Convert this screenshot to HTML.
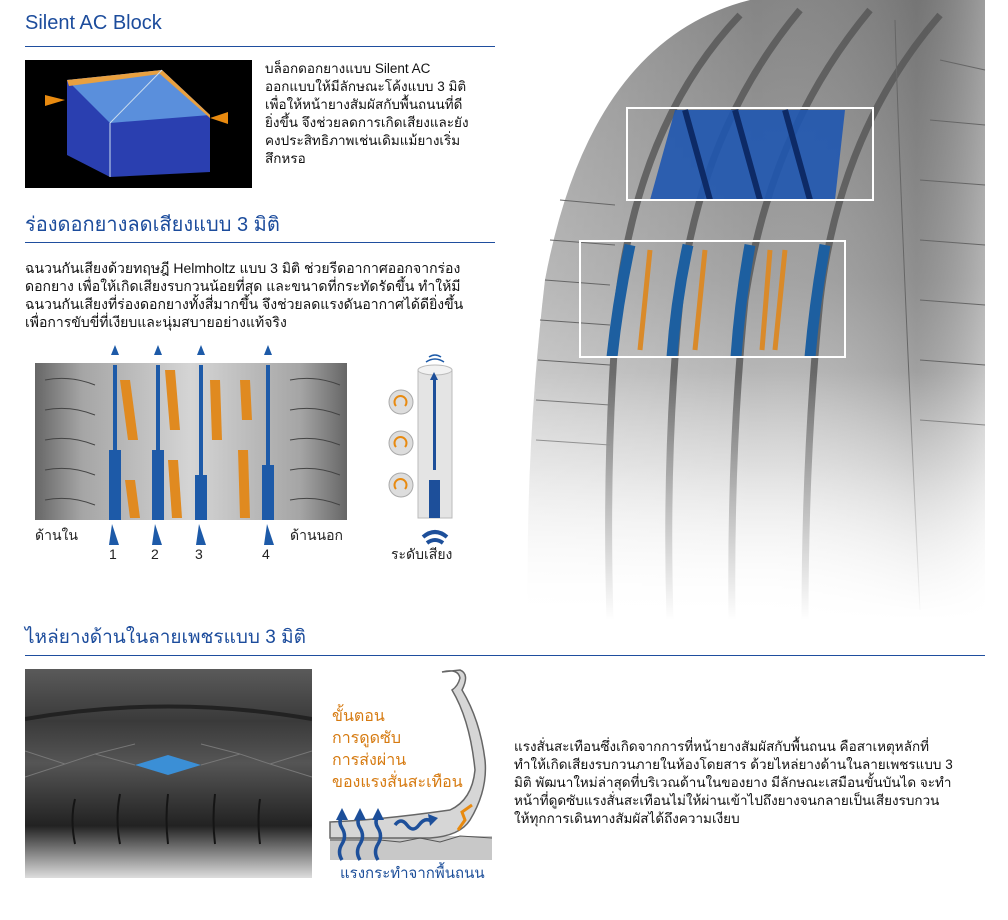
<!DOCTYPE html>
<html><head><meta charset="utf-8">
<style>
body{margin:0;width:1008px;height:920px;background:#fff;position:relative;overflow:hidden;font-family:"Liberation Sans","Noto Sans CJK SC",sans-serif;color:#111}
.abs{position:absolute}
.h{color:#1c4c9c;font-size:20px;white-space:nowrap}
.line{position:absolute;height:1px;background:#1f4e9e}
.p{font-size:13.5px;line-height:18px;white-space:nowrap}
</style></head><body>

<svg class="abs" style="left:500px;top:0" width="508" height="620" viewBox="0 0 508 620">
<defs>
<linearGradient id="tg" x1="0" y1="0" x2="0" y2="1">
<stop offset="0" stop-color="#858585"/><stop offset="0.45" stop-color="#a2a2a2"/><stop offset="0.75" stop-color="#cacaca"/><stop offset="1" stop-color="#fff"/>
</linearGradient>
<linearGradient id="tgx" x1="0" y1="0" x2="1" y2="0">
<stop offset="0" stop-color="#fff" stop-opacity="0.25"/><stop offset="0.5" stop-color="#fff" stop-opacity="0"/><stop offset="0.85" stop-color="#000" stop-opacity="0.12"/><stop offset="1" stop-color="#fff" stop-opacity="0.2"/>
</linearGradient>
<linearGradient id="fade" x1="0" y1="0" x2="0" y2="1">
<stop offset="0.6" stop-color="#fff" stop-opacity="0"/><stop offset="1" stop-color="#fff" stop-opacity="1"/>
</linearGradient>
</defs>
<path d="M250 0 Q90 40 45 280 Q25 450 28 620 L485 620 L485 0 Z" fill="url(#tg)"/>
<path d="M250 0 Q90 40 45 280 Q25 450 28 620 L485 620 L485 0 Z" fill="url(#tgx)"/>
<g fill="none" stroke="#555" stroke-width="7" opacity="0.8">
<path d="M240 15 Q140 120 118 300 Q105 450 110 620"/>
<path d="M300 10 Q200 130 180 300 Q165 450 170 620"/>
<path d="M370 10 Q270 130 245 300 Q230 450 232 620"/>
<path d="M440 15 Q340 130 320 300 Q305 450 305 620"/>
</g>
<g fill="none" stroke="#666" stroke-width="1">
<path d="M395 20 Q400 200 420 610"/>
<path d="M440 60 L485 70 M430 120 L485 125 M420 180 L485 185 M420 240 L485 245 M420 300 L485 305 M420 360 L485 365 M420 420 L485 425"/>
<path d="M60 200 L115 205 M50 240 L115 245 M45 280 L110 285 M40 320 L110 325 M38 360 L110 365 M36 400 L110 405 M36 440 L110 445"/>
</g>
<g>
<path d="M175 110 L345 110 L335 200 L150 200 Z" fill="#1f56b0" opacity="0.9"/>
<path d="M185 110 L210 200 M235 110 L260 200 M285 110 L310 200" stroke="#0d2a66" stroke-width="6"/>
</g>
<rect x="127" y="108" width="246" height="92" fill="none" stroke="#fff" stroke-width="2"/>
<g fill="none">
<path d="M130 245 Q118 300 112 357" stroke="#1d5fa0" stroke-width="11"/>
<path d="M188 245 Q176 300 172 357" stroke="#1d5fa0" stroke-width="11"/>
<path d="M250 245 Q240 300 236 357" stroke="#1d5fa0" stroke-width="11"/>
<path d="M325 245 Q315 300 310 357" stroke="#1d5fa0" stroke-width="11"/>
<path d="M150 250 L140 350 M205 250 L195 350 M270 250 L262 350 M285 250 L275 350" stroke="#d98a2a" stroke-width="5"/>
</g>
<rect x="80" y="241" width="265" height="116" fill="none" stroke="#fff" stroke-width="2"/>
<rect x="0" y="0" width="508" height="620" fill="url(#fade)"/>
</svg>

<div class="abs h" style="left:25px;top:12px">Silent AC Block</div>
<div class="line" style="left:25px;top:46px;width:470px"></div>

<svg class="abs" style="left:25px;top:60px" width="227" height="128">
<rect width="227" height="128" fill="#000"/>
<polygon points="20,35 40,40 20,46" fill="#e88a10"/>
<polygon points="203,52 203,64 185,58" fill="#e88a10"/>
<polygon points="42,20 137,10 185,55 185,112 85,117 42,95" fill="#2a3fb0"/>
<polygon points="42,20 137,10 185,55 85,63" fill="#5a8fdc"/>
<polygon points="42,20 137,10 185,55 185,58 135,14 44,26" fill="#e8a040"/>
<line x1="85" y1="63" x2="137" y2="10" stroke="#cde" stroke-width="1"/>
<line x1="85" y1="63" x2="85" y2="117" stroke="#cde" stroke-width="1"/>
</svg>

<div class="abs p" style="left:265px;top:60px">บล็อกดอกยางแบบ Silent AC<br>ออกแบบให้มีลักษณะโค้งแบบ 3 มิติ<br>เพื่อให้หน้ายางสัมผัสกับพื้นถนนที่ดี<br>ยิ่งขึ้น จึงช่วยลดการเกิดเสียงและยัง<br>คงประสิทธิภาพเช่นเดิมแม้ยางเริ่ม<br>สึกหรอ</div>

<div class="abs h" style="left:25px;top:208px">ร่องดอกยางลดเสียงแบบ 3 มิติ</div>
<div class="line" style="left:25px;top:242px;width:470px"></div>

<div class="abs p" style="left:25px;top:259px;font-size:14px">ฉนวนกันเสียงด้วยทฤษฎี Helmholtz แบบ 3 มิติ ช่วยรีดอากาศออกจากร่อง<br>ดอกยาง เพื่อให้เกิดเสียงรบกวนน้อยที่สุด และขนาดที่กระทัดรัดขึ้น ทำให้มี<br>ฉนวนกันเสียงที่ร่องดอกยางทั้งสี่มากขึ้น จึงช่วยลดแรงดันอากาศได้ดียิ่งขึ้น<br>เพื่อการขับขี่ที่เงียบและนุ่มสบายอย่างแท้จริง</div>

<svg class="abs" style="left:0;top:340px" width="500" height="240">
<defs><linearGradient id="tr" x1="0" y1="0" x2="1" y2="0">
<stop offset="0" stop-color="#666"/><stop offset="0.15" stop-color="#a5a5a5"/><stop offset="0.5" stop-color="#d5d5d5"/><stop offset="0.85" stop-color="#a5a5a5"/><stop offset="1" stop-color="#666"/></linearGradient></defs>
<rect x="35" y="23" width="312" height="157" fill="url(#tr)"/>
<g stroke="#444" stroke-width="1" fill="none">
<path d="M45 40 Q70 35 95 45 M45 70 Q70 65 95 75 M45 100 Q70 95 95 105 M45 130 Q70 125 95 135 M45 160 Q70 155 95 165"/>
<path d="M290 40 Q315 35 340 45 M290 70 Q315 65 340 75 M290 100 Q315 95 340 105 M290 130 Q315 125 340 135 M290 160 Q315 155 340 165"/>
</g>
<g fill="#e08a20">
<polygon points="120,40 130,40 138,100 128,100"/><polygon points="125,140 135,140 140,178 130,178"/>
<polygon points="165,30 175,30 180,90 170,90"/><polygon points="168,120 178,120 182,178 172,178"/>
<polygon points="210,40 220,40 222,100 212,100"/><polygon points="238,110 248,110 250,178 240,178"/>
<polygon points="240,40 250,40 252,80 242,80"/>
</g>
<g fill="#1d5aa8">
<rect x="109" y="110" width="12" height="70"/><rect x="113" y="25" width="4" height="90"/><polygon points="115,5 111,15 119,15"/>
<rect x="152" y="110" width="12" height="70"/><rect x="156" y="25" width="4" height="90"/><polygon points="158,5 154,15 162,15"/>
<rect x="195" y="135" width="12" height="45"/><rect x="199" y="25" width="4" height="115"/><polygon points="201,5 197,15 205,15"/>
<rect x="262" y="125" width="12" height="55"/><rect x="266" y="25" width="4" height="105"/><polygon points="268,5 264,15 272,15"/>
<polygon points="112,184 109,205 119,205"/><polygon points="155,184 152,205 162,205"/><polygon points="199,184 196,205 206,205"/><polygon points="267,184 264,205 274,205"/>
</g>
<g font-size="14" fill="#222">
<text x="35" y="200">ด้านใน</text><text x="290" y="200">ด้านนอก</text>
<text x="109" y="219">1</text><text x="151" y="219">2</text><text x="195" y="219">3</text><text x="262" y="219">4</text>
</g>
<rect x="418" y="30" width="34" height="148" fill="#e4e4e4" stroke="#bbb"/>
<ellipse cx="435" cy="30" rx="17" ry="5" fill="#f2f2f2" stroke="#bbb"/>
<g fill="#1d4f9a"><rect x="433" y="40" width="3" height="90"/><polygon points="434,32 430,40 438,40"/><rect x="429" y="140" width="11" height="38"/></g>
<g fill="#ddd" stroke="#aaa">
<circle cx="401" cy="62" r="12"/><circle cx="401" cy="103" r="12"/><circle cx="401" cy="145" r="12"/></g>
<g fill="none" stroke="#e88a10" stroke-width="2">
<path d="M396 66 a6 6 0 1 1 9 0"/><path d="M396 107 a6 6 0 1 1 9 0"/><path d="M396 149 a6 6 0 1 1 9 0"/></g>
<path d="M426 22 q9 -6 18 0 M429 17 q6 -4 12 0" stroke="#1d5aa8" stroke-width="1.5" fill="none"/>
<path d="M423 197 q12 -10 24 0" stroke="#1d4f9a" stroke-width="4" fill="none"/>
<path d="M427 203 q8 -6 16 0" stroke="#1d4f9a" stroke-width="4" fill="none"/>
<text x="391" y="219" font-size="14" fill="#222">ระดับเสียง</text>
</svg>

<div class="abs h" style="left:25px;top:622px;font-size:19px">ไหล่ยางด้านในลายเพชรแบบ 3 มิติ</div>
<div class="line" style="left:25px;top:655px;width:960px"></div>

<svg class="abs" style="left:25px;top:669px" width="287" height="209">
<defs><linearGradient id="lt" x1="0" y1="0" x2="0" y2="1">
<stop offset="0" stop-color="#5a5a5a"/><stop offset="0.25" stop-color="#3a3a3a"/><stop offset="0.45" stop-color="#555"/><stop offset="0.75" stop-color="#222"/><stop offset="1" stop-color="#ddd"/></linearGradient></defs>
<rect width="287" height="209" fill="url(#lt)"/>
<path d="M0 50 Q143 25 287 50" stroke="#222" stroke-width="4" fill="none"/>
<polygon points="110,96 143,86 176,96 143,106" fill="#3b8fd6"/>
<g stroke="#777" fill="none"><path d="M0 82 L40 95 L0 108 M40 95 L70 85 L110 96 M176 96 L215 85 L245 95 L287 82 M245 95 L287 108 M70 85 L110 75 M215 85 L176 75"/></g>
<g stroke="#151515" stroke-width="2" fill="none"><path d="M50 130 Q45 150 50 175 M95 125 Q90 150 95 175 M143 125 Q140 150 143 175 M190 125 Q187 150 190 175 M235 130 Q232 150 235 175"/></g>
</svg>

<svg class="abs" style="left:320px;top:660px" width="200" height="230">
<rect x="10" y="176" width="162" height="24" fill="#c8c8c8"/>
<path d="M122 12 Q138 8 140 18 Q138 26 132 30 Q150 60 155 110 Q152 140 130 150 Q60 160 10 162 L10 178 Q60 178 110 178 Q140 176 150 160 Q168 130 165 100 Q160 60 142 30 Q150 14 140 10 Z" fill="#d6d6d6" stroke="#666" stroke-width="1.5"/>
<path d="M10 180 L60 180 L80 182 L100 178 L120 182 L140 176 L172 178" stroke="#555" fill="none"/>
<g fill="none" stroke="#1d4f9a" stroke-width="3.5">
<path d="M22 200 q-5 -8 0 -16 q5 -8 0 -16 q-4 -6 0 -12"/><path d="M40 200 q-5 -8 0 -16 q5 -8 0 -16 q-4 -6 0 -12"/><path d="M58 200 q-5 -8 0 -16 q5 -8 0 -16 q-4 -6 0 -12"/>
<path d="M75 165 q6 -8 12 0 q6 8 12 0 q6 -8 12 -4"/>
</g>
<g fill="#1d4f9a"><polygon points="22,148 16,160 28,160"/><polygon points="40,148 34,160 46,160"/><polygon points="58,148 52,160 64,160"/><polygon points="118,158 108,154 110,166"/></g>
<path d="M138 170 L145 160 L142 152 L152 145" stroke="#e88a10" stroke-width="3" fill="none"/>
<g font-size="16" fill="#d67a10"><text x="12" y="61">ขั้นตอน</text><text x="12" y="83">การดูดซับ</text><text x="12" y="105">การส่งผ่าน</text><text x="12" y="127">ของแรงสั่นสะเทือน</text></g>
<text x="20" y="218" font-size="15" fill="#1d4f9a">แรงกระทำจากพื้นถนน</text>
</svg>

<div class="abs" style="left:514px;top:738px;font-size:13.5px;line-height:18px;white-space:nowrap">แรงสั่นสะเทือนซึ่งเกิดจากการที่หน้ายางสัมผัสกับพื้นถนน คือสาเหตุหลักที่<br>ทำให้เกิดเสียงรบกวนภายในห้องโดยสาร ด้วยไหล่ยางด้านในลายเพชรแบบ 3<br>มิติ พัฒนาใหม่ล่าสุดที่บริเวณด้านในของยาง มีลักษณะเสมือนขั้นบันได จะทำ<br>หน้าที่ดูดซับแรงสั่นสะเทือนไม่ให้ผ่านเข้าไปถึงยางจนกลายเป็นเสียงรบกวน<br>ให้ทุกการเดินทางสัมผัสได้ถึงความเงียบ</div>

</body></html>
